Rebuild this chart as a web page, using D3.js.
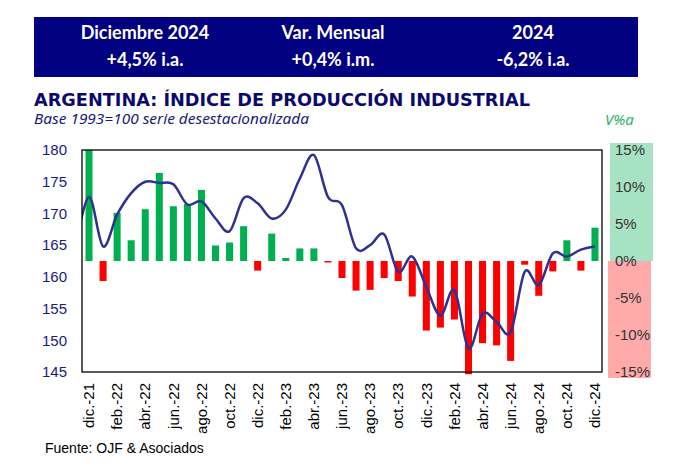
<!DOCTYPE html>
<html><head><meta charset="utf-8">
<script src="https://cdn.jsdelivr.net/npm/d3@7"></script>
<style>
body{margin:0;background:#fff;}
svg{display:block;}
</style></head>
<body>
<svg id="chart" width="673" height="470"></svg>
<script>
// ---- DATA ----
const months = ["dic.-21","ene.-22","feb.-22","mar.-22","abr.-22","may.-22","jun.-22","jul.-22","ago.-22","sep.-22","oct.-22","nov.-22",
"dic.-22","ene.-23","feb.-23","mar.-23","abr.-23","may.-23","jun.-23","jul.-23","ago.-23","sep.-23","oct.-23","nov.-23",
"dic.-23","ene.-24","feb.-24","mar.-24","abr.-24","may.-24","jun.-24","jul.-24","ago.-24","sep.-24","oct.-24","nov.-24","dic.-24"];
// Variación % interanual (barras, eje derecho)
const varAnual = [15.0,-2.7,6.5,2.8,7.0,11.9,7.4,7.7,9.6,2.1,2.5,4.7,
-1.3,3.7,0.4,1.7,1.7,-0.2,-2.3,-4.0,-3.9,-2.3,-2.7,-4.8,
-9.4,-9.0,-7.9,-15.3,-11.1,-11.4,-13.5,-0.5,-4.7,-1.4,2.8,-1.3,4.5];
// Índice desestacionalizado (línea, eje izquierdo); valor previo nov.-21 para el tramo inicial
const indicePrevio = 164.3;
const indice = [172.6,164.8,169.8,173.2,175.0,174.8,174.6,171.4,171.9,169.2,167.2,172.4,
171.6,169.2,170.6,175.5,179.2,172.6,171.3,164.5,165.0,166.7,160.8,163.2,
158.4,153.9,157.9,148.7,154.2,152.9,151.3,160.8,158.7,163.7,163.2,164.3,164.8];
const leftTicks = [145,150,155,160,165,170,175,180];
const rightTicks = [-15,-10,-5,0,5,10,15];
const header = [["Diciembre 2024","+4,5% i.a."],["Var. Mensual","+0,4% i.m."],["2024","-6,2% i.a."]];
const title = "ARGENTINA: ÍNDICE DE PRODUCCIÓN INDUSTRIAL";
const subtitle = "Base 1993=100 serie desestacionalizada";
const source = "Fuente: OJF & Asociados";

// ---- LAYOUT ----
const svg = d3.select("#chart");
const L = 82, R = 602, T = 150, B = 372;

// header box
svg.append("rect").attr("x",34).attr("y",17).attr("width",604).attr("height",60).attr("fill","#000080");
const hx = [145,333,533];
header.forEach((h,i)=>{
  svg.append("text").attr("x",hx[i]).attr("y",39).attr("text-anchor","middle")
    .attr("font-family","Lato, 'Open Sans', sans-serif").attr("font-weight","bold").attr("font-size",18)
    .attr("fill","#fff").text(h[0]);
  svg.append("text").attr("x",hx[i]).attr("y",66).attr("text-anchor","middle")
    .attr("font-family","Lato, 'Open Sans', sans-serif").attr("font-weight","bold").attr("font-size",18)
    .attr("fill","#fff").text(h[1]);
});

svg.append("text").attr("x",34).attr("y",106).attr("font-family","'DejaVu Sans', sans-serif")
  .attr("font-weight","bold").attr("font-size",17).attr("fill","#0a0a6e")
  .attr("textLength",496).attr("lengthAdjust","spacingAndGlyphs").text(title);
svg.append("text").attr("x",34).attr("y",124).attr("font-family","'Noto Sans', sans-serif")
  .attr("font-style","italic").attr("font-size",13.5).attr("fill","#1a1a78")
  .attr("textLength",275).attr("lengthAdjust","spacingAndGlyphs").text(subtitle);
svg.append("text").attr("x",605).attr("y",125).attr("font-family","'Noto Sans', sans-serif")
  .attr("font-style","italic").attr("font-size",15).attr("fill","#2eb36a").text("V%a");

// scales
const x = d3.scaleBand().domain(months).range([L,R]).paddingInner(0.5).paddingOuter(0.25);
const step = x.step();
const xc = i => x(months[i]) + x.bandwidth()/2;
const yL = d3.scaleLinear().domain([145,180]).range([B,T]);
const yR = d3.scaleLinear().domain([-15,15]).range([B,T]);

// right axis background
svg.append("rect").attr("x",610).attr("y",143).attr("width",43).attr("height",yR(0)-143).attr("fill","#a8e2c4");
svg.append("rect").attr("x",608).attr("y",yR(0)).attr("width",43).attr("height",378-yR(0)).attr("fill","#ffaaaa");

// clip
svg.append("clipPath").attr("id","plotclip").append("rect").attr("x",L).attr("y",T-1).attr("width",R-L).attr("height",B-T+3);

// bars
svg.append("g").selectAll("rect").data(varAnual).join("rect")
  .attr("x",(d,i)=>x(months[i])).attr("width",x.bandwidth())
  .attr("y",d=>yR(Math.max(0,d))).attr("height",d=>Math.abs(yR(d)-yR(0)))
  .attr("fill",d=>d>=0?"#00b050":"#ff0000");

// line
const linePts = [[xc(0)-step, indicePrevio]].concat(indice.map((v,i)=>[xc(i),v]));
svg.append("path").attr("clip-path","url(#plotclip)")
  .attr("d", d3.line().x(d=>d[0]).y(d=>yL(d[1])).curve(d3.curveCardinal.tension(0))(linePts))
  .attr("fill","none").attr("stroke","#2e3192").attr("stroke-width",2.5);

// frame
svg.append("rect").attr("x",L).attr("y",T).attr("width",R-L).attr("height",B-T)
  .attr("fill","none").attr("stroke","#000").attr("stroke-width",1.3);

// left axis
const gL = svg.append("g").attr("transform",`translate(${L},0)`)
  .call(d3.axisLeft(yL).tickValues(leftTicks).tickSize(0).tickPadding(15));
gL.select(".domain").remove();
gL.selectAll("text").attr("font-family","'Liberation Sans', Arial, sans-serif").attr("font-size",15).attr("fill","#1a1a78");

// right axis
const gR = svg.append("g").attr("transform",`translate(615,0)`)
  .call(d3.axisRight(yR).tickValues(rightTicks).tickSize(0).tickPadding(0).tickFormat(d=>d+"%"));
gR.select(".domain").remove();
gR.selectAll("text").attr("font-family","'Liberation Sans', Arial, sans-serif").attr("font-size",15).attr("fill","#333");

// bottom axis
const gB = svg.append("g").attr("transform",`translate(0,${B})`)
  .call(d3.axisBottom(x).tickValues(months.filter((m,i)=>i%2===0)).tickSize(0));
gB.select(".domain").remove();
gB.selectAll("text").attr("font-family","'Liberation Sans', Arial, sans-serif").attr("font-size",15).attr("fill","#000")
  .attr("transform","rotate(-90)").attr("text-anchor","end").attr("x",-11).attr("y",0).attr("dy","0.35em");

// source
svg.append("text").attr("x",45).attr("y",453).attr("font-family","'Liberation Sans', Arial, sans-serif")
  .attr("font-size",14).attr("fill","#000").text(source);
</script>
</body></html>
